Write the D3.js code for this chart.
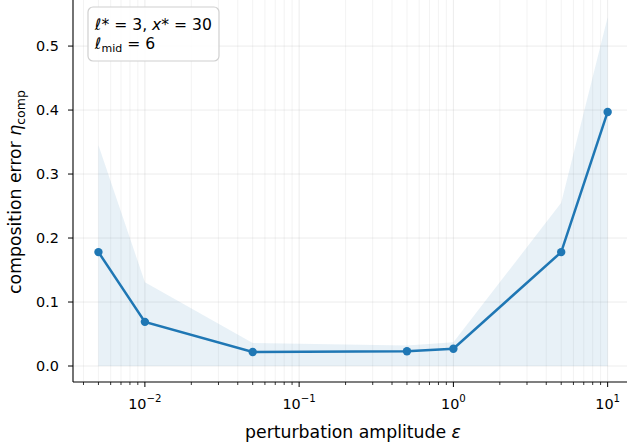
<!DOCTYPE html>
<html>
<head>
<meta charset="utf-8">
<script src="https://cdn.jsdelivr.net/npm/d3@7"></script>
<style>
  body { margin: 0; background: #fff; }
  svg { font-family: "DejaVu Sans", sans-serif; }
</style>
</head>
<body>
<svg width="627" height="444"></svg>
<script>
// data
const eps = [0.005, 0.01, 0.05, 0.5, 1, 5, 10]
const errMean = [0.178, 0.069, 0.022, 0.023, 0.027, 0.178, 0.397]
const errHigh = [0.345, 0.131, 0.036, 0.032, 0.037, 0.255, 0.545]
const errLow = [0, 0, 0, 0, 0, 0, 0]
const yTicks = [0, 0.1, 0.2, 0.3, 0.4, 0.5]
const xTicks = [0.01, 0.1, 1, 10]

const svg = d3.select('svg')
const plotLeft = 73, plotRight = 633, plotTop = 0, plotBottom = 382
const blue = '#1f77b4'

const x = d3.scaleLog().domain([0.00342, 14.6]).range([plotLeft, plotRight])
const y = d3.scaleLinear().domain([-0.025, 0.572]).range([plotBottom, plotTop])

const minorTicks = []
for (let e = -3; e <= 1; e++) {
  for (let m = 1; m <= 9; m++) {
    const v = m * Math.pow(10, e)
    if (v >= x.domain()[0] && v <= 12) minorTicks.push(v)
  }
}
const isMajor = d => xTicks.includes(+d.toPrecision(3))

const plot = svg.append('g')

// grid
plot.selectAll('.gx')
  .data(minorTicks)
  .enter()
  .append('line')
  .attr('x1', d => x(d)).attr('x2', d => x(d))
  .attr('y1', plotTop).attr('y2', plotBottom)
  .attr('stroke', '#b0b0b0')
  .attr('stroke-opacity', d => isMajor(d) ? 0.3 : 0.2)
  .attr('stroke-width', 0.8)

plot.selectAll('.gy')
  .data(yTicks)
  .enter()
  .append('line')
  .attr('x1', plotLeft).attr('x2', plotRight)
  .attr('y1', d => y(d)).attr('y2', d => y(d))
  .attr('stroke', '#b0b0b0')
  .attr('stroke-opacity', 0.3)
  .attr('stroke-width', 0.8)

// band
const area = d3.area()
  .x((d, i) => x(eps[i]))
  .y0((d, i) => y(errLow[i]))
  .y1((d, i) => y(errHigh[i]))
plot.append('path')
  .attr('d', area(eps))
  .attr('fill', blue)
  .attr('fill-opacity', 0.1)

// line + markers
const line = d3.line()
  .x((d, i) => x(eps[i]))
  .y(d => y(d))
plot.append('path')
  .attr('d', line(errMean))
  .attr('fill', 'none')
  .attr('stroke', blue)
  .attr('stroke-width', 2.5)

plot.selectAll('circle')
  .data(errMean)
  .enter()
  .append('circle')
  .attr('cx', (d, i) => x(eps[i]))
  .attr('cy', d => y(d))
  .attr('r', 4.2)
  .attr('fill', blue)

// axes
const xAxis = svg.append('g').attr('transform', `translate(0,${plotBottom})`)
xAxis.append('line')
  .attr('x1', plotLeft).attr('x2', 627)
  .attr('stroke', '#000').attr('stroke-width', 1.1)
xAxis.selectAll('.minor')
  .data(minorTicks.filter(d => !isMajor(d)))
  .enter()
  .append('line')
  .attr('x1', d => x(d)).attr('x2', d => x(d))
  .attr('y1', 0).attr('y2', 3)
  .attr('stroke', '#000').attr('stroke-width', 0.8)
xAxis.selectAll('.major')
  .data(xTicks)
  .enter()
  .append('line')
  .attr('x1', d => x(d)).attr('x2', d => x(d))
  .attr('y1', 0).attr('y2', 5)
  .attr('stroke', '#000').attr('stroke-width', 1)
const xl = xAxis.selectAll('.xl')
  .data(xTicks)
  .enter()
  .append('text')
  .attr('x', d => x(d))
  .attr('y', 27)
  .attr('text-anchor', 'middle')
  .attr('font-size', 14.4)
  .attr('fill', '#000')
xl.append('tspan').text('10')
xl.append('tspan')
  .attr('dy', -7)
  .attr('font-size', 10.2)
  .text(d => d3.format('d')(Math.log10(d)).replace('-', '\u2212'))

svg.append('text')
  .attr('x', 353)
  .attr('y', 438)
  .attr('text-anchor', 'middle')
  .attr('font-size', 17.3)
  .html('perturbation amplitude <tspan font-style="italic">ε</tspan>')

const yAxis = svg.append('g').attr('transform', `translate(${plotLeft},0)`)
yAxis.append('line')
  .attr('y1', plotTop).attr('y2', plotBottom)
  .attr('stroke', '#000').attr('stroke-width', 1.1)
yAxis.selectAll('.yt')
  .data(yTicks)
  .enter()
  .append('line')
  .attr('x1', -5).attr('x2', 0)
  .attr('y1', d => y(d)).attr('y2', d => y(d))
  .attr('stroke', '#000')
yAxis.selectAll('.yl')
  .data(yTicks)
  .enter()
  .append('text')
  .attr('x', -14)
  .attr('y', d => y(d) + 5.3)
  .attr('text-anchor', 'end')
  .attr('font-size', 14.4)
  .text(d => d.toFixed(1))

const ylab = svg.append('text')
  .attr('transform', `translate(21,192) rotate(-90)`)
  .attr('text-anchor', 'middle')
  .attr('font-size', 17.3)
ylab.append('tspan').text('composition error ')
ylab.append('tspan').attr('font-style', 'italic').text('η')
ylab.append('tspan').attr('dy', 4).attr('font-size', 12.5).text('comp')

// annotation box
const box = svg.append('g').attr('transform', 'translate(88,7)')
box.append('rect')
  .attr('width', 131).attr('height', 54)
  .attr('rx', 5)
  .attr('fill', '#fff').attr('fill-opacity', 0.85)
  .attr('stroke', '#d0d0d0').attr('stroke-width', 1.2)
const t1 = box.append('text').attr('x', 7).attr('y', 22.5).attr('font-size', 15.6)
t1.append('tspan').attr('font-style', 'italic').text('ℓ')
t1.append('tspan').text('* = 3, ')
t1.append('tspan').attr('font-style', 'italic').text('x')
t1.append('tspan').text('* = 30')
const t2 = box.append('text').attr('x', 7).attr('y', 41.5).attr('font-size', 15.6)
t2.append('tspan').attr('font-style', 'italic').text('ℓ')
t2.append('tspan').attr('dy', 3.3).attr('font-size', 11).text('mid')
t2.append('tspan').attr('dy', -3.3).text(' = 6')
</script>
</body>
</html>
